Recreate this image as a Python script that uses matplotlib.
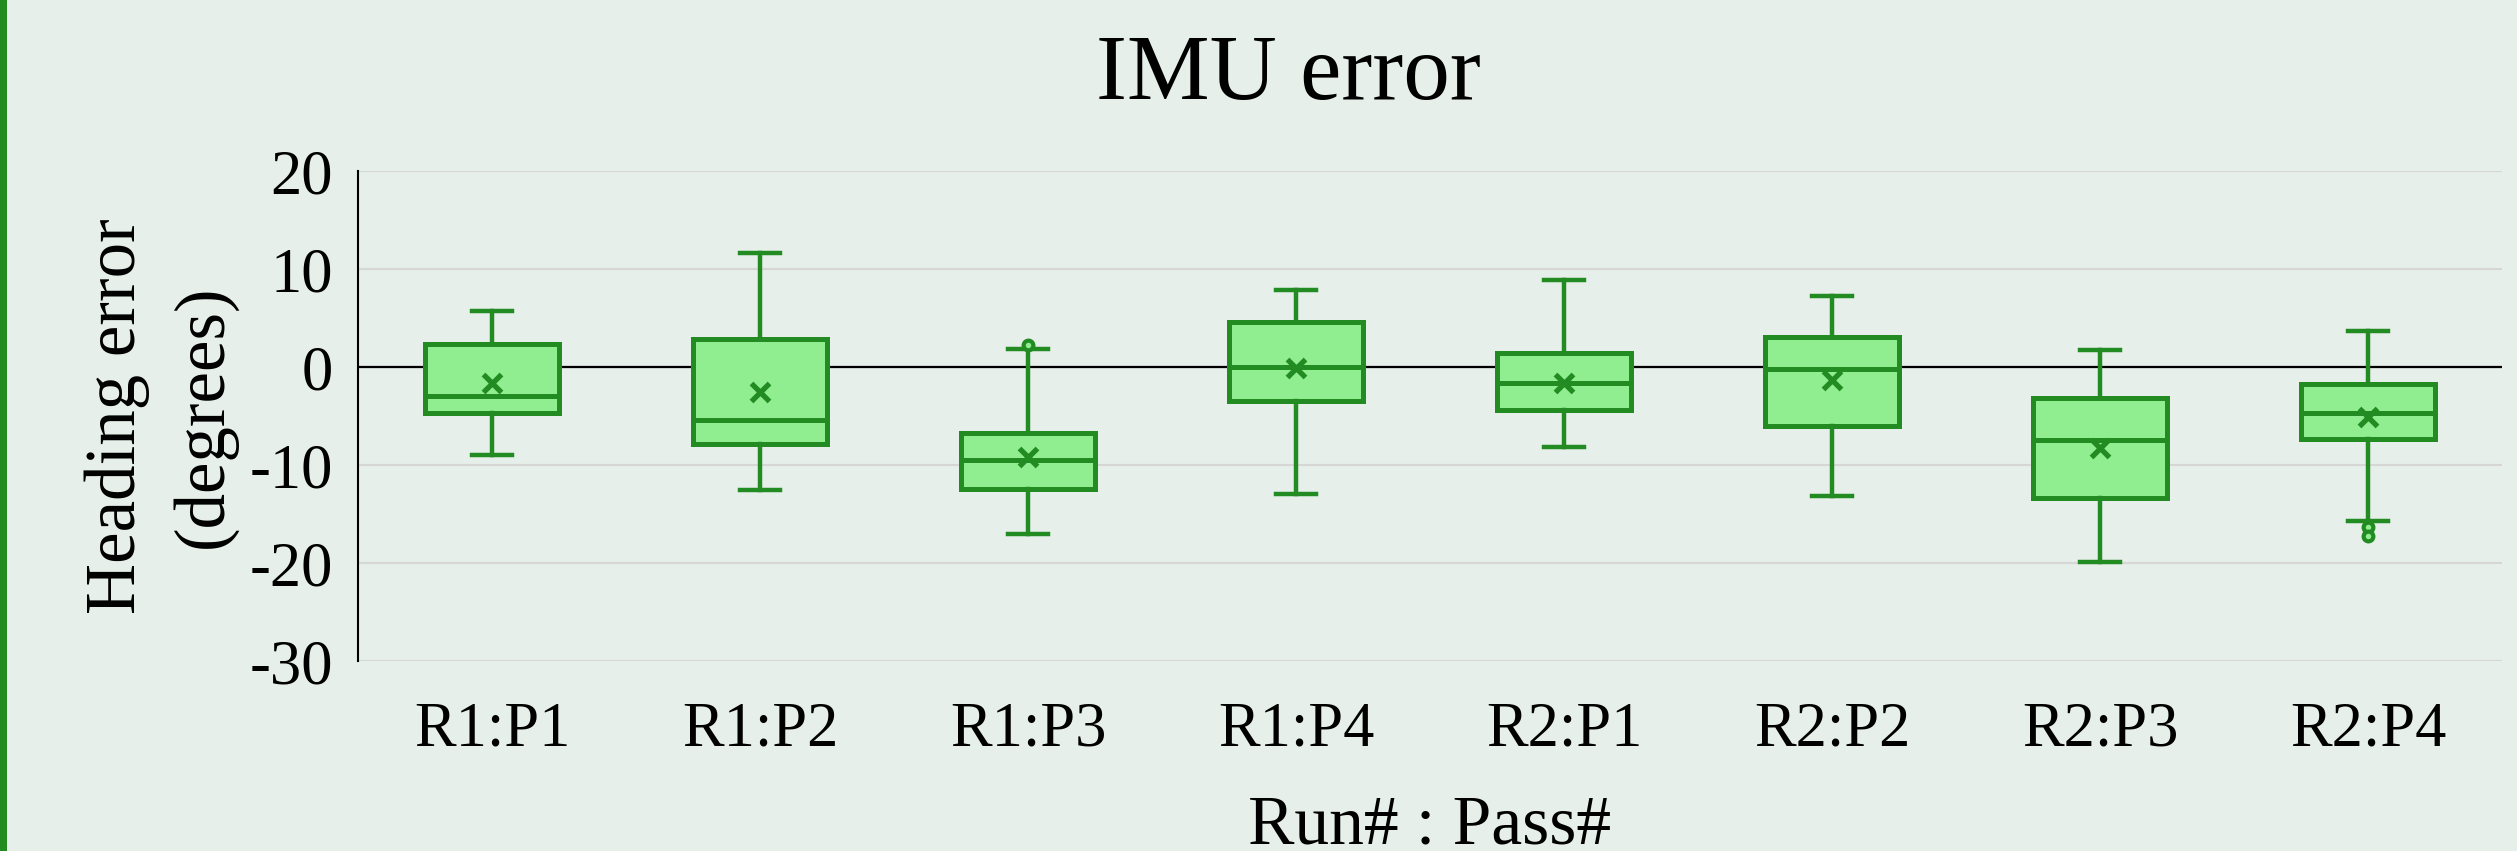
import matplotlib.pyplot as plt
from matplotlib.patches import Rectangle

# values
labels = ["R1:P1", "R1:P2", "R1:P3", "R1:P4", "R2:P1", "R2:P2", "R2:P3", "R2:P4"]
whisker_low = [-9.0, -12.5, -17.0, -13.0, -8.2, -13.2, -19.9, -15.7]
q1 = [-4.7, -7.9, -12.4, -3.5, -4.4, -6.0, -13.4, -7.35]
median = [-3.0, -5.4, -9.5, 0.0, -1.6, -0.2, -7.45, -4.7]
q3 = [2.35, 2.9, -6.7, 4.6, 1.4, 3.1, -3.2, -1.7]
whisker_high = [5.7, 11.6, 1.8, 7.9, 8.9, 7.2, 1.7, 3.7]
mean = [-1.6, -2.6, -9.2, -0.1, -1.6, -1.3, -8.3, -5.1]
outliers = [[], [], [2.2], [], [], [], [], [-16.3, -17.2]]

yticks = [20, 10, 0, -10, -20, -30]

EDGE = "#228B22"
FILL = "#90EE90"
BG = "#E6EFEA"

plt.rcParams["font.family"] = ["Liberation Serif", "DejaVu Serif"]

fig = plt.figure(figsize=(25.17, 8.51), dpi=100, facecolor=BG)
fig.patches.append(Rectangle((0, 0), 7 / 2517, 1, transform=fig.transFigure,
                             facecolor=EDGE, edgecolor="none"))
ax = fig.add_axes([358 / 2517, 1 - 661 / 851, 2144 / 2517, 490 / 851])
ax.set_facecolor(BG)

stats = []
for i in range(len(labels)):
    stats.append(dict(label=labels[i], whislo=whisker_low[i], q1=q1[i], med=median[i],
                      q3=q3[i], whishi=whisker_high[i], mean=mean[i], fliers=outliers[i]))

ax.bxp(stats, positions=range(len(labels)), widths=0.5, capwidths=0.15,
       patch_artist=True, showmeans=True, zorder=3,
       boxprops=dict(facecolor=FILL, edgecolor=EDGE, linewidth=3.6),
       medianprops=dict(color=EDGE, linewidth=3.6),
       whiskerprops=dict(color=EDGE, linewidth=3.2),
       capprops=dict(color=EDGE, linewidth=3.2),
       meanprops=dict(marker="x", markersize=13, markeredgewidth=3.8,
                      markeredgecolor=EDGE),
       flierprops=dict(marker="o", markersize=7, markeredgewidth=3.0,
                       markeredgecolor=EDGE, markerfacecolor=FILL))

ax.axhline(0, color="black", linewidth=1.6, zorder=2)
ax.set_xlim(-0.5, len(labels) - 0.5)
ax.set_ylim(-30, 20)
ax.set_yticks(yticks)
ax.set_yticklabels([str(v) for v in yticks])
ax.yaxis.grid(True, color="#D6D6D6", linewidth=1.5, zorder=0)
ax.set_axisbelow(True)

for side in ["top", "right", "bottom"]:
    ax.spines[side].set_visible(False)
ax.spines["left"].set_linewidth(1.5)
ax.tick_params(axis="both", length=0, labelsize=45)
ax.tick_params(axis="y", pad=18)
ax.tick_params(axis="x", pad=29)

ax.set_xlabel("Run# : Pass#", fontsize=50, labelpad=26)
ax.set_ylabel("Heading error\n(degrees)", fontsize=51, linespacing=1.42, labelpad=9)
fig.text(1288 / 2517, 1 - 99 / 851, "IMU error", fontsize=67, ha="center", va="baseline")

fig.savefig("out.png", dpi=100, facecolor=BG)
